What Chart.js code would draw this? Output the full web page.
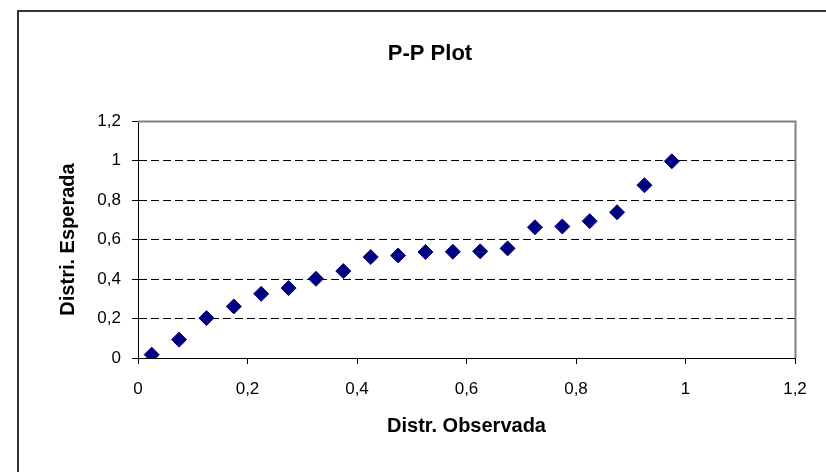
<!DOCTYPE html>
<html>
<head>
<meta charset="utf-8">
<script src="https://cdn.jsdelivr.net/npm/chart.js@4/dist/chart.umd.min.js"></script>
<style>
  html, body { margin: 0; padding: 0; background: #ffffff; }
  #wrap { position: relative; width: 826px; height: 472px; overflow: hidden; }
  #frame { position: absolute; left: 17px; top: 10px; width: 900px; height: 600px;
           border-left: 2px solid #333333; border-top: 2px solid #333333; }
  canvas { position: absolute; left: 0; top: 0; }
</style>
</head>
<body>
<div id="wrap">
  <div id="frame"></div>
  <canvas id="c" width="826" height="472"></canvas>
</div>
<script>
const chartTitle = 'P-P Plot';
const xAxisTitle = 'Distr. Observada';
const yAxisTitle = 'Distri. Esperada';

const xValues = [0.025, 0.075, 0.125, 0.175, 0.225, 0.275, 0.325, 0.375, 0.425, 0.475,
                 0.525, 0.575, 0.625, 0.675, 0.725, 0.775, 0.825, 0.875, 0.925, 0.975];
const yValues = [0.017, 0.093, 0.202, 0.261, 0.325, 0.354, 0.401, 0.440, 0.511, 0.519,
                 0.537, 0.538, 0.540, 0.555, 0.662, 0.666, 0.693, 0.738, 0.875, 0.996];

const xTickValues = [0, 0.2, 0.4, 0.6, 0.8, 1, 1.2];
const xTickLabels = ['0', '0,2', '0,4', '0,6', '0,8', '1', '1,2'];
const yTickValues = [0, 0.2, 0.4, 0.6, 0.8, 1, 1.2];
const yTickLabels = ['0', '0,2', '0,4', '0,6', '0,8', '1', '1,2'];

const FONT = "'Liberation Sans', Arial, sans-serif";

const framePlugin = {
  id: 'framePlugin',
  beforeDatasetsDraw(chart) {
    const { ctx, chartArea: a } = chart;
    ctx.save();
    ctx.strokeStyle = '#808080';
    ctx.lineWidth = 2;
    ctx.beginPath();
    ctx.moveTo(a.left, a.top + 0.5);
    ctx.lineTo(a.right + 0.5, a.top + 0.5);
    ctx.lineTo(a.right + 0.5, a.bottom);
    ctx.stroke();
    ctx.restore();
  },
  afterDraw(chart) {
    const { ctx } = chart;
    ctx.save();
    ctx.fillStyle = '#000000';
    ctx.font = "bold 22px " + FONT;
    ctx.textAlign = 'center';
    ctx.textBaseline = 'alphabetic';
    ctx.fillText(chartTitle, 430, 60);
    ctx.restore();
  }
};

const points = xValues.map((x, i) => ({ x: x, y: yValues[i] }));

new Chart(document.getElementById('c'), {
  type: 'scatter',
  data: {
    datasets: [{
      data: points,
      pointStyle: 'rectRot',
      pointRadius: 7.5,
      pointHoverRadius: 7.5,
      backgroundColor: '#000080',
      borderColor: '#000080',
      borderWidth: 1
    }]
  },
  options: {
    responsive: false,
    animation: false,
    events: [],
    layout: { padding: { left: 0, right: 31, top: 121, bottom: 0 } },
    plugins: {
      legend: { display: false },
      tooltip: { enabled: false },
      title: { display: false }
    },
    scales: {
      x: {
        type: 'linear',
        min: 0, max: 1.2,
        afterBuildTicks: s => { s.ticks = xTickValues.map(v => ({ value: v })); },
        afterFit: s => { s.height = 114; },
        ticks: {
          callback: (v, i) => xTickLabels[i],
          font: { family: FONT, size: 17 },
          color: '#000000',
          padding: 15,
          maxRotation: 0,
          autoSkip: false
        },
        grid: {
          drawOnChartArea: false,
          drawTicks: true,
          tickLength: 6,
          tickColor: '#000000',
          color: '#000000'
        },
        border: { display: true, color: '#000000', width: 1 },
        title: {
          display: true,
          text: xAxisTitle,
          color: '#000000',
          font: { family: FONT, size: 20, weight: 'bold' },
          padding: { top: 0, bottom: 33.5 }
        }
      },
      y: {
        type: 'linear',
        min: 0, max: 1.2,
        afterBuildTicks: s => { s.ticks = yTickValues.map(v => ({ value: v })); },
        afterFit: s => { s.width = 138; },
        ticks: {
          callback: (v, i) => yTickLabels[i],
          font: { family: FONT, size: 17 },
          color: '#000000',
          padding: 11
        },
        grid: {
          drawOnChartArea: true,
          drawTicks: true,
          tickLength: 6,
          tickColor: '#000000',
          lineWidth: 1,
          color: ctx => (ctx.index === 0 || ctx.index === yTickValues.length - 1) ? 'rgba(0,0,0,0)' : '#000000'
        },
        border: { display: true, color: '#000000', width: 1, dash: [8, 4] },
        title: {
          display: true,
          text: yAxisTitle,
          color: '#000000',
          font: { family: FONT, size: 20, weight: 'bold' },
          padding: { top: 56, bottom: 0 }
        }
      }
    }
  },
  plugins: [framePlugin]
});
</script>
</body>
</html>
